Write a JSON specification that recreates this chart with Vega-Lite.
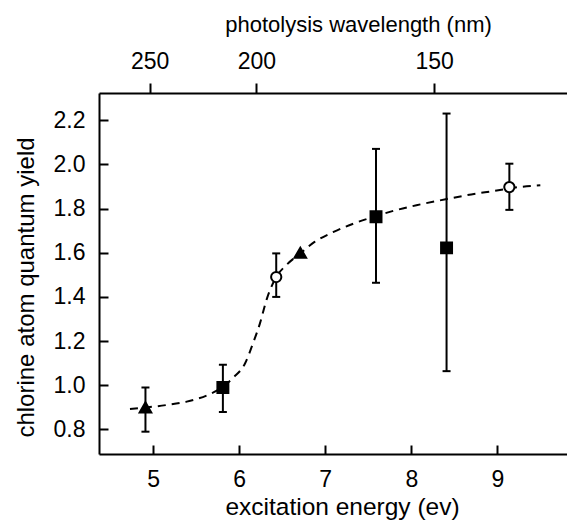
{
  "$schema": "https://vega.github.io/schema/vega-lite/v6.json",
  "width": 468,
  "height": 361,
  "autosize": "none",
  "padding": {"left": 99, "top": 93, "right": 0, "bottom": 67},
  "background": "white",
  "config": {
    "view": {"stroke": null},
    "font": "Liberation Sans",
    "axis": {
      "grid": false,
      "domainColor": "black",
      "domainWidth": 2,
      "ticks": true,
      "tickColor": "black",
      "tickWidth": 2,
      "tickOpacity": 1,
      "labelColor": "black",
      "titleColor": "black",
      "labelFont": "Liberation Sans",
      "titleFont": "Liberation Sans",
      "labelFontSize": 23,
      "titleFontSize": 24,
      "titleFontWeight": "normal"
    }
  },
  "datasets": {
    "curve": [
      {"energy": 4.73, "yield": 0.893},
      {"energy": 5.16, "yield": 0.911},
      {"energy": 5.39, "yield": 0.926},
      {"energy": 5.64, "yield": 0.957},
      {"energy": 5.81, "yield": 0.993},
      {"energy": 5.93, "yield": 1.034},
      {"energy": 6.07, "yield": 1.101},
      {"energy": 6.16, "yield": 1.19},
      {"energy": 6.24, "yield": 1.279},
      {"energy": 6.32, "yield": 1.39},
      {"energy": 6.43, "yield": 1.49},
      {"energy": 6.55, "yield": 1.545},
      {"energy": 6.71, "yield": 1.597},
      {"energy": 6.88, "yield": 1.65},
      {"energy": 7.09, "yield": 1.693},
      {"energy": 7.33, "yield": 1.732},
      {"energy": 7.6, "yield": 1.767},
      {"energy": 7.75, "yield": 1.785},
      {"energy": 8.06, "yield": 1.815},
      {"energy": 8.4, "yield": 1.842},
      {"energy": 8.64, "yield": 1.86},
      {"energy": 9.03, "yield": 1.884},
      {"energy": 9.15, "yield": 1.892},
      {"energy": 9.5, "yield": 1.905}
    ],
    "points": [
      {"energy": 4.91, "yield": 0.9, "lo": 0.79, "hi": 0.99, "source": "A"},
      {"energy": 5.81, "yield": 0.99, "lo": 0.879, "hi": 1.093, "source": "B"},
      {"energy": 6.43, "yield": 1.49, "lo": 1.4, "hi": 1.597, "source": "C"},
      {"energy": 6.71, "yield": 1.6, "lo": null, "hi": null, "source": "A"},
      {"energy": 7.59, "yield": 1.763, "lo": 1.464, "hi": 2.07, "source": "B"},
      {"energy": 8.41, "yield": 1.622, "lo": 1.064, "hi": 2.23, "source": "B"},
      {"energy": 9.14, "yield": 1.897, "lo": 1.794, "hi": 2.003, "source": "C"}
    ],
    "wavelengthTicks": [
      {"energy": 4.959, "nm": 250},
      {"energy": 6.199, "nm": 200},
      {"energy": 8.266, "nm": 150}
    ]
  },
  "resolve": {"axis": {"x": "independent", "y": "independent"}},
  "layer": [
    {
      "data": {"name": "curve"},
      "mark": {"type": "line", "color": "black", "strokeWidth": 2, "strokeDash": [8, 6], "interpolate": "monotone"},
      "encoding": {
        "x": {"field": "energy", "type": "quantitative", "scale": {"domain": [4.37, 9.81], "nice": false, "zero": false},
          "axis": {"orient": "bottom", "title": "excitation energy (ev)", "titleFontSize": 24.5, "titleX": 243, "values": [5, 6, 7, 8, 9], "ticks": false, "tickSize": 0, "labelPadding": 14, "titlePadding": 4}},
        "y": {"field": "yield", "type": "quantitative", "scale": {"domain": [0.689, 2.323], "nice": false, "zero": false},
          "axis": {"orient": "left", "title": "chlorine atom quantum yield", "titleY": 194, "values": [0.8, 1.0, 1.2, 1.4, 1.6, 1.8, 2.0, 2.2], "format": ".1f", "ticks": false, "tickSize": 0, "labelPadding": 14, "titlePadding": 15}}
      }
    },
    {
      "data": {"name": "points"},
      "transform": [{"filter": "datum.lo != null"}],
      "mark": {"type": "rule", "color": "black", "strokeWidth": 2},
      "encoding": {
        "x": {"field": "energy", "type": "quantitative",
          "axis": {"orient": "bottom", "offset": -9, "values": [5, 6, 7, 8, 9], "ticks": true, "tickColor": "black", "tickWidth": 2, "tickOpacity": 1, "tickSize": 9, "domain": false, "labels": false, "title": null}},
        "y": {"field": "lo", "type": "quantitative",
          "axis": {"orient": "left", "offset": -9, "values": [0.8, 1.0, 1.2, 1.4, 1.6, 1.8, 2.0, 2.2], "ticks": true, "tickColor": "black", "tickWidth": 2, "tickOpacity": 1, "tickSize": 9, "domain": false, "labels": false, "title": null}},
        "y2": {"field": "hi"}
      }
    },
    {
      "data": {"name": "points"},
      "transform": [{"filter": "datum.lo != null"}, {"fold": ["lo", "hi"], "as": ["end", "cap"]}],
      "mark": {"type": "point", "shape": "stroke", "filled": false, "stroke": "black", "strokeWidth": 2, "size": 64, "opacity": 1},
      "encoding": {
        "x": {"field": "energy", "type": "quantitative", "axis": null},
        "y": {"field": "cap", "type": "quantitative", "axis": null}
      }
    },
    {
      "data": {"name": "points"},
      "mark": {"type": "point", "opacity": 1, "strokeWidth": 2, "stroke": "black"},
      "encoding": {
        "x": {"field": "energy", "type": "quantitative", "axis": null},
        "y": {"field": "yield", "type": "quantitative", "axis": null},
        "shape": {"field": "source", "type": "nominal", "scale": {"domain": ["A", "B", "C"], "range": ["triangle-up", "square", "circle"]}, "legend": null},
        "fill": {"field": "source", "type": "nominal", "scale": {"domain": ["A", "B", "C"], "range": ["black", "black", "white"]}, "legend": null},
        "size": {"field": "source", "type": "nominal", "scale": {"domain": ["A", "B", "C"], "range": [135, 105, 70]}, "legend": null}
      }
    },
    {
      "data": {"name": "wavelengthTicks"},
      "mark": {"type": "point", "opacity": 0},
      "encoding": {
        "x": {"field": "energy", "type": "quantitative",
          "axis": {"orient": "top", "title": "photolysis wavelength (nm)", "titleFontSize": 22, "titleX": 259, "values": [4.959, 6.199, 8.266], "labelExpr": "datum.value < 5.5 ? '250' : datum.value < 7 ? '200' : '150'", "ticks": true, "tickColor": "black", "tickWidth": 2, "tickOpacity": 1, "tickSize": 10, "labelPadding": 10, "titlePadding": 14}},
        "y": {"field": "nm", "type": "quantitative", "axis": null}
      }
    }
  ]
}
